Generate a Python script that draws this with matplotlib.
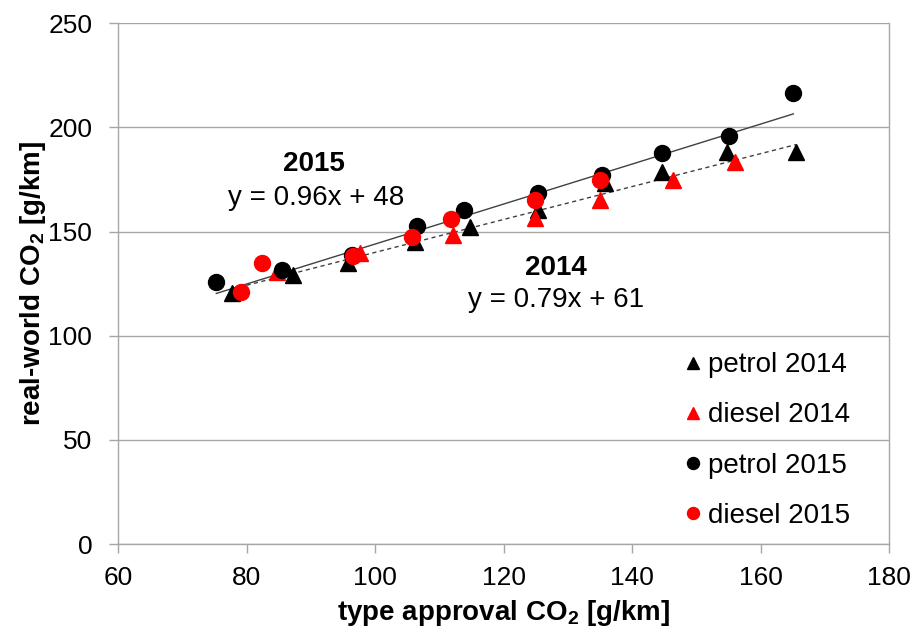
import matplotlib
matplotlib.use("Agg")
import matplotlib.pyplot as plt
import numpy as np

plt.rcParams["font.family"] = ["Liberation Sans", "DejaVu Sans"]
plt.rcParams["mathtext.fontset"] = "custom"
plt.rcParams["mathtext.rm"] = "Liberation Sans"
plt.rcParams["mathtext.bf"] = "Liberation Sans:bold"

# type approval vs real-world CO2
petrol_2014_x = [77.7, 87.3, 95.8, 106.2, 114.8, 125.4, 135.8, 144.6, 154.8, 165.5]
petrol_2014_y = [120.3, 129.1, 134.7, 145.1, 152.3, 160.3, 173.1, 178.7, 188.2, 188.2]
diesel_2014_x = [84.7, 97.7, 112.1, 124.9, 135.0, 146.4, 156.0]
diesel_2014_y = [130.7, 139.5, 148.3, 156.3, 165.1, 174.7, 183.4]
petrol_2015_x = [75.3, 85.5, 96.4, 106.5, 113.9, 125.4, 135.3, 144.6, 155.1, 165.1]
petrol_2015_y = [125.9, 131.5, 138.7, 152.6, 160.3, 168.3, 177.1, 187.8, 195.8, 216.3]
diesel_2015_x = [79.1, 82.4, 96.6, 105.7, 111.9, 124.9, 135.0]
diesel_2015_y = [121.1, 134.7, 138.2, 147.5, 155.9, 165.1, 174.7]

# trendline coefficients as printed on the chart
fit_2014 = (0.79, 61)
fit_2015 = (0.96, 48)

x_ticks = [60, 80, 100, 120, 140, 160, 180]
y_ticks = [0, 50, 100, 150, 200, 250]

fig = plt.figure(figsize=(9.19, 6.33), dpi=100)
ax = fig.add_axes([0.1284, 0.1406, 0.8390, 0.8226])

grey = "#a6a6a6"
ax.set_xlim(60, 180)
ax.set_ylim(0, 250)
ax.set_xticks(x_ticks)
ax.set_yticks(y_ticks)
ax.grid(axis="y", color=grey, linewidth=1.0)
ax.set_axisbelow(True)
for side in ["left", "right", "bottom"]:
    ax.spines[side].set_color(grey)
    ax.spines[side].set_linewidth(1.0)
ax.spines["top"].set_visible(False)
ax.tick_params(axis="both", colors=grey, labelcolor="black", labelsize=19,
               length=6.5, width=1.0, direction="out")
ax.tick_params(axis="x", pad=9)
ax.tick_params(axis="y", pad=12)

# trendlines over each year's data range
all_2014_x = np.array(petrol_2014_x + diesel_2014_x)
all_2015_x = np.array(petrol_2015_x + diesel_2015_x)
xs14 = np.array([all_2014_x.min(), all_2014_x.max()])
xs15 = np.array([all_2015_x.min(), all_2015_x.max()])
ax.plot(xs15, fit_2015[0] * xs15 + fit_2015[1], color="#404040", linewidth=1.0, zorder=2)
ax.plot(xs14, fit_2014[0] * xs14 + fit_2014[1], color="#404040", linewidth=1.0,
        linestyle=(0, (3, 2.5)), zorder=2)

ax.plot(petrol_2014_x, petrol_2014_y, linestyle="none", marker="^", markersize=12,
        color="black", label="petrol 2014", zorder=3)
ax.plot(diesel_2014_x, diesel_2014_y, linestyle="none", marker="^", markersize=12,
        color="#ff0000", label="diesel 2014", zorder=4)
ax.plot(petrol_2015_x, petrol_2015_y, linestyle="none", marker="o", markersize=11.5,
        color="black", label="petrol 2015", zorder=5)
ax.plot(diesel_2015_x, diesel_2015_y, linestyle="none", marker="o", markersize=11.5,
        color="#ff0000", label="diesel 2015", zorder=6)

ax.text(90.5, 182.3, "2015", fontsize=20, fontweight="bold", ha="center", va="center")
ax.text(90.8, 166, "y = 0.96x + 48", fontsize=20, ha="center", va="center")
ax.text(128.2, 132.4, "2014", fontsize=20, fontweight="bold", ha="center", va="center")
ax.text(128.2, 117, "y = 0.79x + 61", fontsize=20, ha="center", va="center")

leg = ax.legend(loc="lower right", bbox_to_anchor=(0.964, 0.008), frameon=False,
                fontsize=20, handlelength=0.5, handletextpad=0.3,
                labelspacing=0.87, markerscale=0.75, borderaxespad=0.0)

ax.set_xlabel(r"type approval CO$_\mathbf{2}$ [g/km]", fontsize=20, fontweight="bold",
              labelpad=6)
ax.set_ylabel(r"real-world CO$_\mathbf{2}$ [g/km]", fontsize=20, fontweight="bold",
              labelpad=0)

fig.savefig("out.png", dpi=100)
plt.close(fig)
